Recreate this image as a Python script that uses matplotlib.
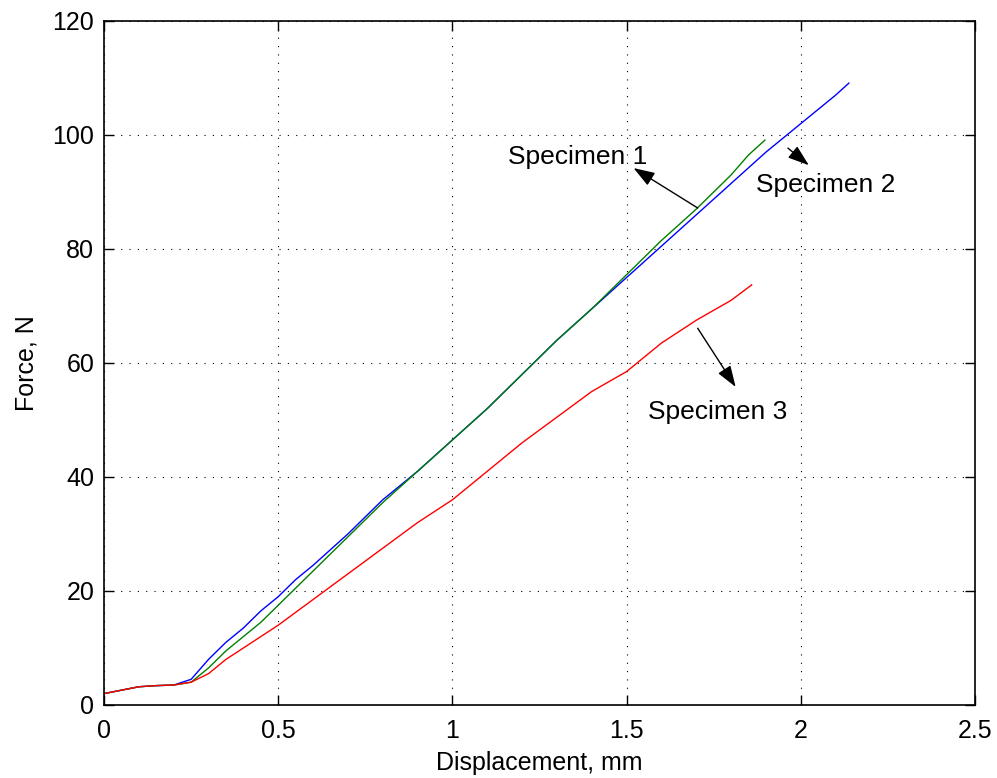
import matplotlib
matplotlib.use("Agg")
import matplotlib.pyplot as plt

# displacement (mm) / force (N)
spec1_x = [0.0, 0.05, 0.1, 0.15, 0.2, 0.25, 0.3, 0.35, 0.4, 0.45, 0.5, 0.55, 0.6, 0.7,
           0.8, 0.9, 1.0, 1.1, 1.2, 1.3, 1.4, 1.5, 1.6, 1.7, 1.8, 1.85, 1.897]
spec1_y = [2.0, 2.6, 3.2, 3.4, 3.5, 4.0, 6.5, 9.5, 12.0, 14.5, 17.5, 20.5, 23.5, 29.5,
           35.5, 41.0, 46.5, 52.0, 58.0, 64.0, 69.5, 75.5, 81.5, 87.0, 93.0, 96.5, 99.1]

spec2_x = [0.0, 0.05, 0.1, 0.15, 0.2, 0.25, 0.3, 0.35, 0.4, 0.45, 0.5, 0.55, 0.6, 0.7,
           0.8, 0.9, 1.0, 1.1, 1.2, 1.3, 1.4, 1.5, 1.6, 1.7, 1.8, 1.9, 2.0, 2.1, 2.138]
spec2_y = [2.0, 2.6, 3.2, 3.4, 3.5, 4.5, 8.0, 11.0, 13.5, 16.5, 19.0, 22.0, 24.5, 30.0,
           36.0, 41.0, 46.5, 52.0, 58.0, 64.0, 69.5, 75.0, 80.5, 86.0, 91.5, 97.0, 102.0, 107.0, 109.1]

spec3_x = [0.0, 0.05, 0.1, 0.15, 0.2, 0.25, 0.3, 0.35, 0.4, 0.45, 0.5, 0.6, 0.7, 0.8,
           0.9, 1.0, 1.1, 1.2, 1.3, 1.4, 1.5, 1.6, 1.7, 1.8, 1.859]
spec3_y = [2.0, 2.6, 3.2, 3.4, 3.5, 4.0, 5.5, 8.0, 10.0, 12.0, 14.0, 18.5, 23.0, 27.5,
           32.0, 36.0, 41.0, 46.0, 50.5, 55.0, 58.5, 63.5, 67.5, 71.0, 73.7]

labels = ["Specimen 1", "Specimen 2", "Specimen 3"]
label_pos = [(1.36, 96.1), (2.07, 91.2), (1.762, 51.4)]
arrow_tail = [(1.704, 87.2), (1.963, 97.7), (1.704, 66.1)]
arrow_head = [(1.52, 94.2), (2.023, 94.7), (1.813, 55.8)]

plt.rcParams['font.family'] = ['Liberation Sans', 'DejaVu Sans']
fs = 18

fig = plt.figure(figsize=(9.97, 7.78), dpi=100)
ax = fig.add_axes([104 / 997, 73 / 778, 871 / 997, 684 / 778])

ax.plot(spec2_x, spec2_y, color='#0000ff', lw=1)
ax.plot(spec1_x, spec1_y, color='#008000', lw=1)
ax.plot(spec3_x, spec3_y, color='#ff0000', lw=1)

for txt, pos, tail, head in zip(labels, label_pos, arrow_tail, arrow_head):
    ax.annotate('', xy=head, xytext=tail,
                arrowprops=dict(arrowstyle='-|>,head_length=1.3,head_width=0.45',
                                color='black', lw=1, shrinkA=0, shrinkB=0))
    ax.text(pos[0], pos[1], txt, ha='center', va='center', fontsize=19)

ax.set_xlim(0, 2.5)
ax.set_ylim(0, 120)
ax.set_xticks([0, 0.5, 1, 1.5, 2, 2.5])
ax.set_xticklabels(['0', '0.5', '1', '1.5', '2', '2.5'])
ax.set_yticks(range(0, 121, 20))
ax.grid(True, color='black', linestyle=(0, (1, 6.5)), linewidth=0.8)
for s in ax.spines.values():
    s.set_linewidth(1.2)
ax.tick_params(direction='in', length=7, width=1, top=True, right=True,
               labelsize=fs, pad=7)
ax.tick_params(axis='x', pad=10)
ax.set_xlabel('Displacement, mm', fontsize=fs, labelpad=6)
ax.set_ylabel('Force, N', fontsize=fs, labelpad=10)

plt.savefig('out.png', dpi=100)
